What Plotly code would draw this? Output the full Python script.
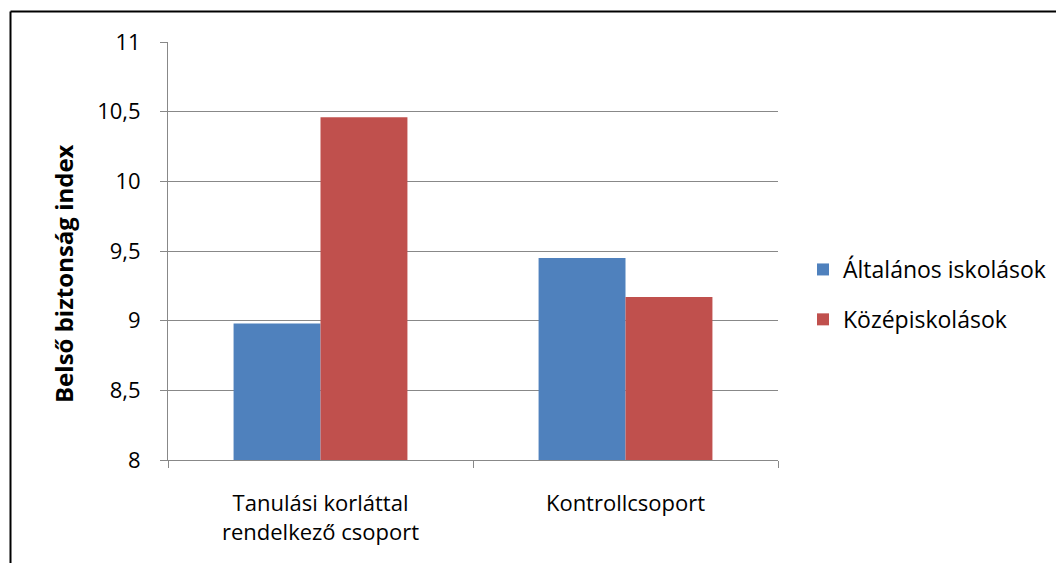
import plotly.graph_objects as go

categories = ["Tanulási korláttal<br>rendelkező csoport", "Kontrollcsoport"]
series_names = ["Általános iskolások", "Középiskolások"]
altalanos = [8.98, 9.45]
kozep = [10.46, 9.17]
y_ticks = [8, 8.5, 9, 9.5, 10, 10.5, 11]
y_tick_labels = ["8", "8,5", "9", "9,5", "10", "10,5", "11"]
y_title = "Belső biztonság index"

# page body has an 8px margin; figure coordinates = page coordinates - 8
OFF = 8
W, H = 1064 - 2 * OFF, 571 - 2 * OFF
L, R, T, B = 168 - OFF, 778 - OFF, 42 - OFF, 460 - OFF
FONT = "Open Sans"


def px_x(x_page):
    return (x_page - OFF - L) / (R - L)


def px_y(y_page):
    return (B - (y_page - OFF)) / (B - T)


fig = go.Figure()
fig.add_trace(go.Bar(x=categories, y=altalanos, name=series_names[0],
                     marker=dict(color="#4F81BD", line=dict(width=0)),
                     legendgroup="a"))
fig.add_trace(go.Bar(x=categories, y=kozep, name=series_names[1],
                     marker=dict(color="#C0504D", line=dict(width=0)),
                     legendgroup="b"))

fig.update_layout(
    width=W, height=H,
    margin=dict(l=L, r=W - R, t=T, b=H - B, pad=0, autoexpand=False),
    paper_bgcolor="white", plot_bgcolor="white",
    barmode="group", bargap=0.43, bargroupgap=0,
    font=dict(family=FONT, size=22, color="black"),
    showlegend=True,
    legend=dict(x=px_x(803), y=px_y(248), xanchor="left", yanchor="top",
                traceorder="grouped", tracegroupgap=17,
                font=dict(size=23), itemwidth=30, bgcolor="rgba(0,0,0,0)"),
    xaxis=dict(type="category", showline=True, linecolor="#888888", linewidth=1,
               ticks="outside", tickson="boundaries", ticklen=7, tickcolor="#888888",
               showgrid=False, tickfont=dict(size=22), ticklabelstandoff=24),
    yaxis=dict(range=[8, 11], tickvals=y_ticks, ticktext=y_tick_labels,
               showline=True, linecolor="#888888", linewidth=1,
               ticks="outside", ticklen=7, tickcolor="#888888",
               showgrid=True, gridcolor="#888888", gridwidth=1,
               zeroline=False, tickfont=dict(size=22), ticklabelstandoff=15),
    annotations=[
        dict(text="<b>" + y_title + "</b>", xref="paper", yref="paper",
             x=px_x(63), y=px_y(274), xanchor="center", yanchor="middle",
             textangle=-90, showarrow=False, font=dict(size=24, color="black")),
    ],
    shapes=[
        dict(type="line", xref="paper", yref="paper", x0=px_x(10.5), x1=px_x(1080),
             y0=px_y(11.5), y1=px_y(11.5), line=dict(color="black", width=2)),
        dict(type="line", xref="paper", yref="paper", x0=px_x(10.5), x1=px_x(10.5),
             y0=px_y(11.5), y1=px_y(600), line=dict(color="black", width=2)),
    ],
)

fig.write_html("out.html")
